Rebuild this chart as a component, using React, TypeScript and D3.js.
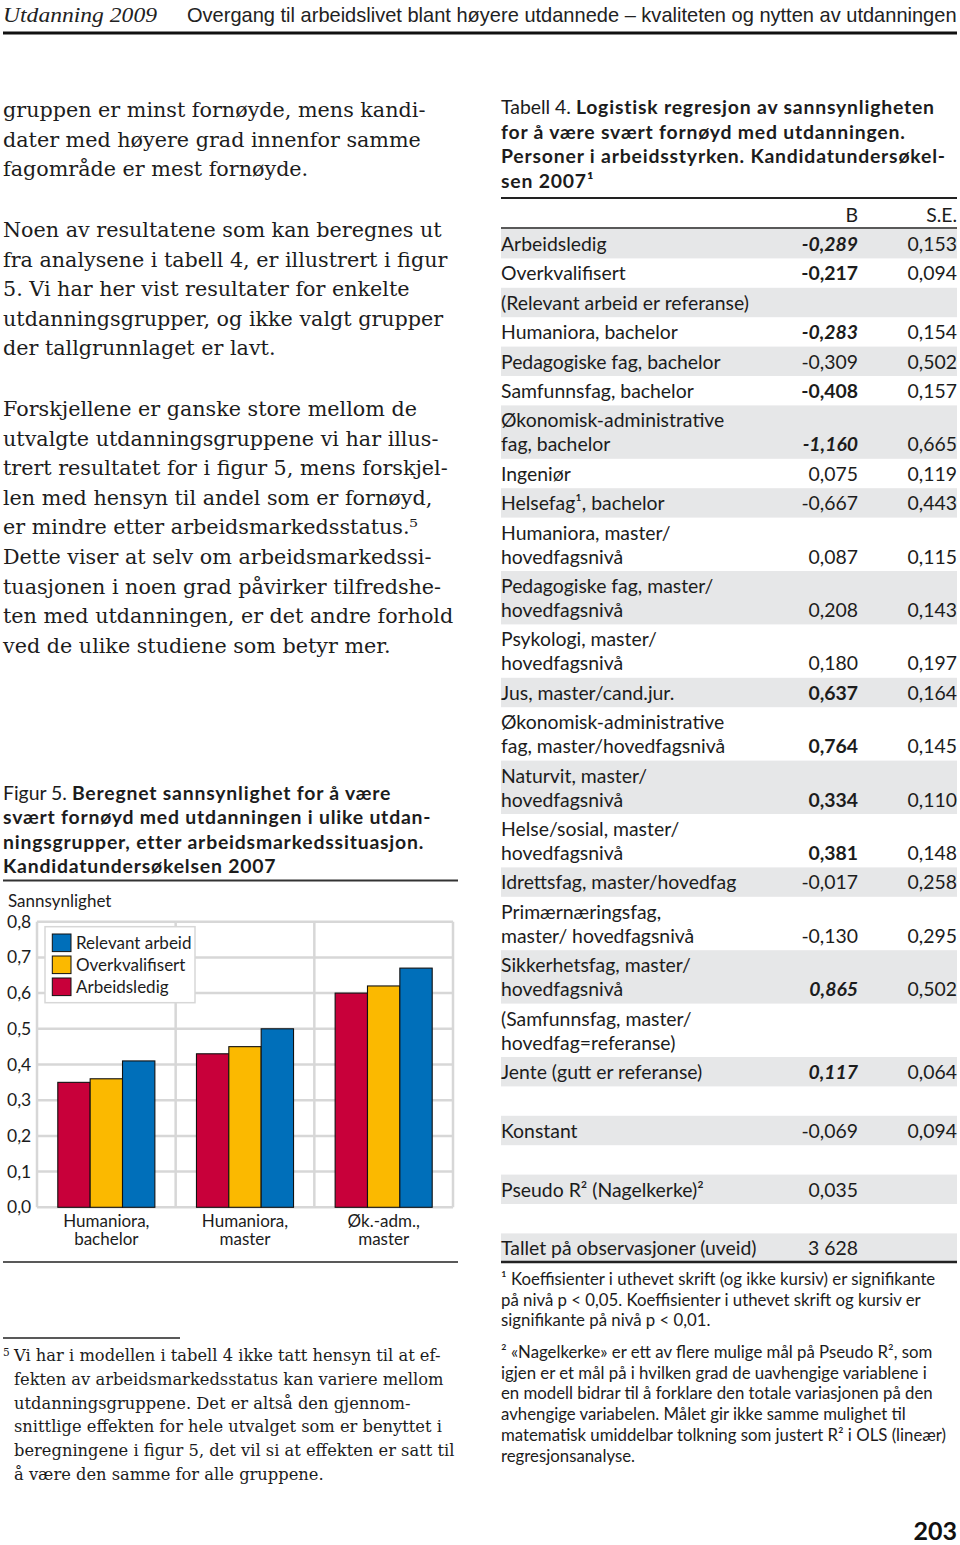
import React, { useLayoutEffect, useRef, useState } from "react";
import * as d3 from "d3";

// ---------- Chart data (Figur 5) ----------
const categories = ["Humaniora, bachelor", "Humaniora, master", "Øk.-adm., master"];
const categoryLines = [["Humaniora,", "bachelor"], ["Humaniora,", "master"], ["Øk.-adm.,", "master"]];
const seriesNames = ["Arbeidsledig", "Overkvalifisert", "Relevant arbeid"];
const arbeidsledig = [0.35, 0.43, 0.6];
const overkvalifisert = [0.36, 0.45, 0.62];
const relevantArbeid = [0.41, 0.5, 0.67];
const yTicks = [0, 0.1, 0.2, 0.3, 0.4, 0.5, 0.6, 0.7, 0.8];
const yTickLabels = ["0,0", "0,1", "0,2", "0,3", "0,4", "0,5", "0,6", "0,7", "0,8"];
const legendOrder = ["Relevant arbeid", "Overkvalifisert", "Arbeidsledig"];

// ---------- Table 4 data ----------
const rowLabels = [
  ["Arbeidsledig"],
  ["Overkvalifisert"],
  ["(Relevant arbeid er referanse)"],
  ["Humaniora, bachelor"],
  ["Pedagogiske fag, bachelor"],
  ["Samfunnsfag, bachelor"],
  ["Økonomisk-administrative", "fag, bachelor"],
  ["Ingeniør"],
  ["Helsefag¹, bachelor"],
  ["Humaniora, master/", "hovedfagsnivå"],
  ["Pedagogiske fag, master/", "hovedfagsnivå"],
  ["Psykologi, master/", "hovedfagsnivå"],
  ["Jus, master/cand.jur."],
  ["Økonomisk-administrative", "fag, master/hovedfagsnivå"],
  ["Naturvit, master/", "hovedfagsnivå"],
  ["Helse/sosial, master/", "hovedfagsnivå"],
  ["Idrettsfag, master/hovedfag"],
  ["Primærnæringsfag,", "master/ hovedfagsnivå"],
  ["Sikkerhetsfag, master/", "hovedfagsnivå"],
  ["(Samfunnsfag, master/", "hovedfag=referanse)"],
  ["Jente (gutt er referanse)"],
  [""],
  ["Konstant"],
  [""],
  ["Pseudo R² (Nagelkerke)²"],
  [""],
  ["Tallet på observasjoner (uveid)"],
];
const rowB = ["-0,289", "-0,217", "", "-0,283", "-0,309", "-0,408", "-1,160", "0,075", "-0,667", "0,087", "0,208", "0,180", "0,637", "0,764", "0,334", "0,381", "-0,017", "-0,130", "0,865", "", "0,117", "", "-0,069", "", "0,035", "", "3 628"];
const rowSE = ["0,153", "0,094", "", "0,154", "0,502", "0,157", "0,665", "0,119", "0,443", "0,115", "0,143", "0,197", "0,164", "0,145", "0,110", "0,148", "0,258", "0,295", "0,502", "", "0,064", "", "0,094", "", "", "", ""];
// 2 = bold italic (p<0,01), 1 = bold (p<0,05), 0 = not significant
const rowSig = [2, 1, 0, 2, 0, 1, 2, 0, 0, 0, 0, 0, 1, 1, 1, 1, 0, 0, 2, 0, 2, 0, 0, 0, 0, 0, 0];

// ---------- Page text ----------
const headerLeft = "Utdanning 2009";
const headerRight = "Overgang til arbeidslivet blant høyere utdannede – kvaliteten og nytten av utdanningen";
const para1 = [
  "gruppen er minst fornøyde, mens kandi-",
  "dater med høyere grad innenfor samme",
  "fagområde er mest fornøyde.",
];
const para2 = [
  "Noen av resultatene som kan beregnes ut",
  "fra analysene i tabell 4, er illustrert i figur",
  "5. Vi har her vist resultater for enkelte",
  "utdanningsgrupper, og ikke valgt grupper",
  "der tallgrunnlaget er lavt.",
];
const para3 = [
  "Forskjellene er ganske store mellom de",
  "utvalgte utdanningsgruppene vi har illus-",
  "trert resultatet for i figur 5, mens forskjel-",
  "len med hensyn til andel som er fornøyd,",
  "er mindre etter arbeidsmarkedsstatus.⁵",
  "Dette viser at selv om arbeidsmarkedssi-",
  "tuasjonen i noen grad påvirker tilfredshe-",
  "ten med utdanningen, er det andre forhold",
  "ved de ulike studiene som betyr mer.",
];
const captionLines = [
  "Beregnet sannsynlighet for å være",
  "svært fornøyd med utdanningen i ulike utdan-",
  "ningsgrupper, etter arbeidsmarkedssituasjon.",
  "Kandidatundersøkelsen 2007",
];
const footnote5 = [
  "Vi har i modellen i tabell 4 ikke tatt hensyn til at ef-",
  "fekten av arbeidsmarkedsstatus kan variere mellom",
  "utdanningsgruppene. Det er altså den gjennom-",
  "snittlige effekten for hele utvalget som er benyttet i",
  "beregningene i figur 5, det vil si at effekten er satt til",
  "å være den samme for alle gruppene.",
];
const tableTitle = [
  "Logistisk regresjon av sannsynligheten",
  "for å være svært fornøyd med utdanningen.",
  "Personer i arbeidsstyrken. Kandidatundersøkel-",
  "sen 2007¹",
];
const note1 = [
  "¹ Koeffisienter i uthevet skrift (og ikke kursiv) er signifikante",
  "på nivå p < 0,05. Koeffisienter i uthevet skrift og kursiv er",
  "signifikante på nivå p < 0,01.",
];
const note2 = [
  "² «Nagelkerke» er ett av flere mulige mål på Pseudo R², som",
  "igjen er et mål på i hvilken grad de uavhengige variablene i",
  "en modell bidrar til å forklare den totale variasjonen på den",
  "avhengige variabelen. Målet gir ikke samme mulighet til",
  "matematisk umiddelbar tolkning som justert R² i OLS (lineær)",
  "regresjonsanalyse.",
];

const SERIF = "'DejaVu Serif', serif";
const SANS = "Lato, 'Open Sans', sans-serif";
const INK = "#1c1c1c";
const BOLD_SPACING = 0.8;

const colors: Record<string, string> = {
  Arbeidsledig: "#c8003a",
  Overkvalifisert: "#fbb900",
  "Relevant arbeid": "#006fba",
};

function Chart() {
  const values: Record<string, number[]> = {
    Arbeidsledig: arbeidsledig,
    Overkvalifisert: overkvalifisert,
    "Relevant arbeid": relevantArbeid,
  };
  const x0 = d3.scaleBand<string>().domain(categories).range([37, 453]).paddingInner(0).paddingOuter(0);
  const bw = x0.bandwidth();
  const x1 = d3.scaleBand<string>().domain(seriesNames).range([bw * 0.15, bw * 0.85]).padding(0);
  const y = d3.scaleLinear().domain([0, 0.8]).range([1207.3, 921.7]);
  const grid = "#d7d7d7";
  const boundaries = [...categories.map((c) => x0(c) as number), 453];
  return (
    <g>
      <text x={8} y={907} fontFamily={SANS} fontSize={17} fill={INK}>Sannsynlighet</text>
      {yTicks.map((t, i) => (
        <g key={"t" + i}>
          <line x1={37} x2={453} y1={y(t)} y2={y(t)} stroke={grid} strokeWidth={2.5} />
          <text x={7} y={y(t) + 6} fontFamily={SANS} fontSize={17.5} fill={INK}>{yTickLabels[i]}</text>
        </g>
      ))}
      {boundaries.map((bx, i) => (
        <line key={"v" + i} x1={bx} x2={bx} y1={y(0.8)} y2={y(0)} stroke={grid} strokeWidth={2.5} />
      ))}
      {categories.map((c, ci) => (
        <g key={c}>
          {seriesNames.map((s) => {
            const v = values[s][ci];
            return (
              <rect
                key={s}
                x={(x0(c) as number) + (x1(s) as number)}
                y={y(v)}
                width={x1.bandwidth()}
                height={y(0) - y(v)}
                fill={colors[s]}
                stroke="#111"
                strokeWidth={1.1}
              />
            );
          })}
          {categoryLines[ci].map((ln, li) => (
            <text key={li} x={(x0(c) as number) + bw / 2} y={1226.5 + li * 18} textAnchor="middle" fontFamily={SANS} fontSize={17} fill={INK}>{ln}</text>
          ))}
        </g>
      ))}
      <rect x={45} y={926.7} width={150} height={76} fill="#fff" stroke={grid} strokeWidth={1.5} />
      {legendOrder.map((s, i) => (
        <g key={s}>
          <rect x={52.3} y={934 + i * 22} width={18.7} height={17.6} fill={colors[s]} stroke="#111" strokeWidth={1} />
          <text x={76} y={949 + i * 22} fontFamily={SANS} fontSize={17} fill={INK}>{s}</text>
        </g>
      ))}
    </g>
  );
}

function Table() {
  const shade = "#e6e7e8";
  let top = 229;
  const rows = rowLabels.map((lines, i) => {
    const h = 29.4 + (lines.length - 1) * 24;
    const t = top;
    top += h;
    const last = t + 22 + (lines.length - 1) * 24;
    const sig = rowSig[i];
    return (
      <g key={i}>
        {i % 2 === 0 && <rect x={501} y={t} width={456} height={h} fill={shade} />}
        {lines.map((ln, li) => (
          <text key={li} x={501} y={t + 22 + li * 24} fontFamily={SANS} fontSize={19.4} fill={INK}>{ln}</text>
        ))}
        {rowB[i] && (
          <text x={858} y={last} textAnchor="end" fontFamily={SANS} fontSize={19.4} fill={INK}
            fontWeight={sig > 0 ? 700 : 400} fontStyle={sig === 2 ? "italic" : "normal"}>{rowB[i]}</text>
        )}
        {rowSE[i] && (
          <text x={957} y={last} textAnchor="end" fontFamily={SANS} fontSize={19.4} fill={INK}>{rowSE[i]}</text>
        )}
      </g>
    );
  });
  return (
    <g>
      {tableTitle.map((ln, i) => (
        <text key={i} x={501} y={114 + i * 24.6} fontFamily={SANS} fontSize={19.4} fill={INK}>
          {i === 0 && <tspan fontWeight={400}>Tabell 4. </tspan>}
          <tspan fontWeight={700} letterSpacing={BOLD_SPACING}>{ln}</tspan>
        </text>
      ))}
      <line x1={501} x2={957} y1={198} y2={198} stroke="#222" strokeWidth={2} />
      <text x={858} y={222} textAnchor="end" fontFamily={SANS} fontSize={19.4} fill={INK}>B</text>
      <text x={957} y={222} textAnchor="end" fontFamily={SANS} fontSize={19.4} fill={INK}>S.E.</text>
      <line x1={501} x2={957} y1={228} y2={228} stroke="#222" strokeWidth={1.5} />
      {rows}
      <line x1={501} x2={957} y1={1262} y2={1262} stroke="#222" strokeWidth={2.5} />
      {note1.map((ln, i) => (
        <text key={"a" + i} x={501} y={1285 + i * 20.7} fontFamily={SANS} fontSize={16.8} fill={INK}>{ln}</text>
      ))}
      {note2.map((ln, i) => (
        <text key={"b" + i} x={501} y={1358 + i * 20.7} fontFamily={SANS} fontSize={16.8} fill={INK}>{ln}</text>
      ))}
    </g>
  );
}

export default function App() {
  const hdrRef = useRef<SVGTextElement>(null);
  const [sx, setSx] = useState(1);
  useLayoutEffect(() => {
    const el = hdrRef.current;
    if (el) {
      const w = el.getComputedTextLength();
      if (w > 0) setSx(770 / w);
    }
  }, []);
  return (
    <svg width={960} height={1545} viewBox="0 0 960 1545"
      style={{ position: "absolute", left: 0, top: 0, display: "block", background: "#fff" }}>
      <rect x={0} y={0} width={960} height={1545} fill="#fff" />
      {/* Header */}
      <text x={3} y={22} fontFamily="'Liberation Serif', serif" fontStyle="italic" fontSize={22} fill="#222"
        textLength={154} lengthAdjust="spacingAndGlyphs">{headerLeft}</text>
      <text ref={hdrRef} x={0} y={0} transform={`translate(187,22) scale(${sx},1)`}
        fontFamily="'Liberation Sans Narrow', 'Liberation Sans', sans-serif" fontSize={21} fill="#222">{headerRight}</text>
      <line x1={3} x2={957} y1={33} y2={33} stroke="#111" strokeWidth={3} />

      {/* Left column body text */}
      {para1.map((ln, i) => (
        <text key={"p1" + i} x={3} y={117 + i * 29.6} fontFamily={SERIF} fontSize={20.7} fill={INK}>{ln}</text>
      ))}
      {para2.map((ln, i) => (
        <text key={"p2" + i} x={3} y={237 + i * 29.6} fontFamily={SERIF} fontSize={20.7} fill={INK}>{ln}</text>
      ))}
      {para3.map((ln, i) => (
        <text key={"p3" + i} x={3} y={416 + i * 29.6} fontFamily={SERIF} fontSize={20.7} fill={INK}>{ln}</text>
      ))}

      {/* Figure caption */}
      {captionLines.map((ln, i) => (
        <text key={"c" + i} x={3} y={800 + i * 24.4} fontFamily={SANS} fontSize={19.4} fill={INK}>
          {i === 0 && <tspan fontWeight={400}>Figur 5. </tspan>}
          <tspan fontWeight={700} letterSpacing={BOLD_SPACING}>{ln}</tspan>
        </text>
      ))}
      <line x1={3} x2={458} y1={880.5} y2={880.5} stroke="#333" strokeWidth={2} />
      <Chart />
      <line x1={3} x2={458} y1={1262} y2={1262} stroke="#222" strokeWidth={1.5} />

      {/* Left footnote */}
      <line x1={3} x2={180} y1={1338} y2={1338} stroke="#222" strokeWidth={1.3} />
      <text x={3} y={1356} fontFamily={SERIF} fontSize={10.5} fill={INK}>5</text>
      {footnote5.map((ln, i) => (
        <text key={"f" + i} x={14} y={1361 + i * 23.8} fontFamily={SERIF} fontSize={16.3} fill={INK}>{ln}</text>
      ))}

      <Table />

      <text x={957} y={1540} textAnchor="end" fontFamily={SANS} fontWeight={700} fontSize={25} fill="#111">203</text>
    </svg>
  );
}
